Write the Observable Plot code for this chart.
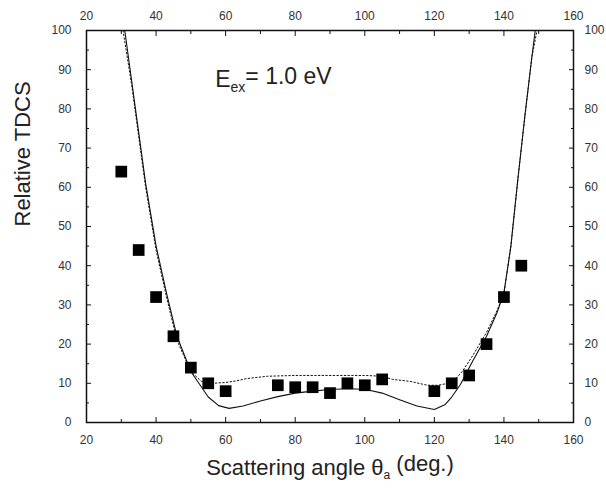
<!DOCTYPE html>
<html><head><meta charset="utf-8">
<script src="https://cdn.jsdelivr.net/npm/d3@7"></script>
<script src="https://cdn.jsdelivr.net/npm/@observablehq/plot@0.6"></script>
<style>body{margin:0;background:#fff} svg{font-family:"Liberation Sans",Arial,sans-serif}</style>
</head><body><div id="chart"></div>
<script>
// Experimental points
const expX = [30,35,40,45,50,55,60,75,80,85,90,95,100,105,120,125,130,135,140,145];
const expY = [64,44,32,22,14,10,8,9.5,9,9,7.5,10,9.5,11,8,10,12,20,32,40];
// Theory (solid)
const solidX = [31,33,35,37,40,43,46,50,55,58,61,65,70,75,80,85,90,95,100,105,110,115,120,123,125,127.5,131,135,138,140,142,144,146,148,149];
const solidY = [100,87,74,61,45,33,22,13,6.5,4.3,3.6,4.2,5.5,6.6,7.5,8,8.4,8.6,8.5,7.5,5.8,4.2,3.3,4.5,6.5,9.7,15.6,22,28,33,45,62,78,93,100];
// Theory (dotted)
const dotX = [30.5,33,35,37,40,43,46,50,53,56,60,63,66,72,80,90,100,105,108,113,118,121,124,126,128,131,135,138,140,142,144,146,148,149.5];
const dotY = [100,86,73,60,44,32,21,13,10.5,10,10.2,10.6,11.2,11.8,12,12,12,11.8,11,10.5,9.5,9.5,10,11,13,17,23,28.5,33,45,62,78,93,100];
// Ticks
const xMajor = [20,40,60,80,100,120,140,160];
const xMinor = [30,50,70,90,110,130,150];
const yMajor = [0,10,20,30,40,50,60,70,80,90,100];
const yMinor = [5,15,25,35,45,55,65,75,85,95];
// Texts
const xTitle = "Scattering angle θa (deg.)";
const yTitle = "Relative TDCS";
const energyLabel = "Eex = 1.0 eV";

const exp = expX.map((x,i)=>({x, y: expY[i]}));
const solid = solidX.map((x,i)=>({x, y: solidY[i]}));
const dotted = dotX.map((x,i)=>({x, y: dotY[i]}));
const blank = () => "";
const ink = "#111";

const chart = Plot.plot({
  width: 606, height: 493,
  marginLeft: 86, marginRight: 33, marginTop: 30, marginBottom: 71,
  style: {fontFamily: "Liberation Sans, Arial, sans-serif", background: "#fff", color: ink, fontSize: "12px"},
  x: {domain: [20,160]},
  y: {domain: [0,100]},
  marks: [
    Plot.line(dotted, {x:"x", y:"y", stroke: ink, strokeWidth: 1, strokeDasharray: "1.5,2.2", clip: true}),
    Plot.line(solid, {x:"x", y:"y", stroke: ink, strokeWidth: 1.1, clip: true}),
    Plot.dot(exp, {x:"x", y:"y", symbol:"square", r: 6.6, fill: "#000", stroke: "none"}),
    // ticks inward, all four sides
    Plot.axisX({anchor:"bottom", ticks: xMajor, tickSize: -5, tickFormat: blank, label: null, stroke: ink}),
    Plot.axisX({anchor:"bottom", ticks: xMinor, tickSize: -3, tickFormat: blank, label: null, stroke: ink}),
    Plot.axisX({anchor:"top", ticks: xMajor, tickSize: -5, tickFormat: blank, label: null, stroke: ink}),
    Plot.axisX({anchor:"top", ticks: xMinor, tickSize: -3, tickFormat: blank, label: null, stroke: ink}),
    Plot.axisY({anchor:"left", ticks: yMajor, tickSize: -5, tickFormat: blank, label: null, stroke: ink}),
    Plot.axisY({anchor:"left", ticks: yMinor, tickSize: -3, tickFormat: blank, label: null, stroke: ink}),
    Plot.axisY({anchor:"right", ticks: yMajor, tickSize: -5, tickFormat: blank, label: null, stroke: ink}),
    Plot.axisY({anchor:"right", ticks: yMinor, tickSize: -3, tickFormat: blank, label: null, stroke: ink}),
    // tick labels
    Plot.axisX({anchor:"bottom", ticks: xMajor, tickSize: 0, tickPadding: 13, label: null, fill: "#333"}),
    Plot.axisX({anchor:"top", ticks: xMajor, tickSize: 0, tickPadding: 11, label: null, fill: "#333"}),
    Plot.axisY({anchor:"left", ticks: yMajor, tickSize: 0, tickPadding: 15, label: null, fill: "#333"}),
    Plot.axisY({anchor:"right", ticks: yMajor, tickSize: 0, tickPadding: 11, label: null, fill: "#333"}),
    Plot.frame({stroke: ink, strokeWidth: 1.5}),
    // titles
    Plot.text([xTitle], {frameAnchor: "bottom", dy: 52, fontSize: 22, fill: "#222"}),
    Plot.text([yTitle], {frameAnchor: "left", dx: -64, rotate: -90, fontSize: 22, fill: "#222"}),
    Plot.text([energyLabel], {x: 57, y: 87.5, textAnchor: "start", fontSize: 23, fill: "#222"})
  ]
});
document.getElementById("chart").appendChild(chart);

// subscripts
const svg = d3.select(chart);
svg.selectAll("text").filter(function(){ return this.textContent === energyLabel; }).each(function(){
  const t = d3.select(this); t.text(null);
  t.append("tspan").text("E");
  t.append("tspan").attr("dy","0.35em").attr("font-size","14px").text("ex");
  t.append("tspan").attr("dy","-0.35em").text("= 1.0 eV");
});
svg.selectAll("text").filter(function(){ return this.textContent === xTitle; }).each(function(){
  const t = d3.select(this); t.text(null);
  t.append("tspan").text("Scattering angle θ");
  t.append("tspan").attr("dy","0.4em").attr("font-size","12px").text("a");
  t.append("tspan").attr("dy","-0.4em").text(" (deg.)");
});
</script></body></html>
